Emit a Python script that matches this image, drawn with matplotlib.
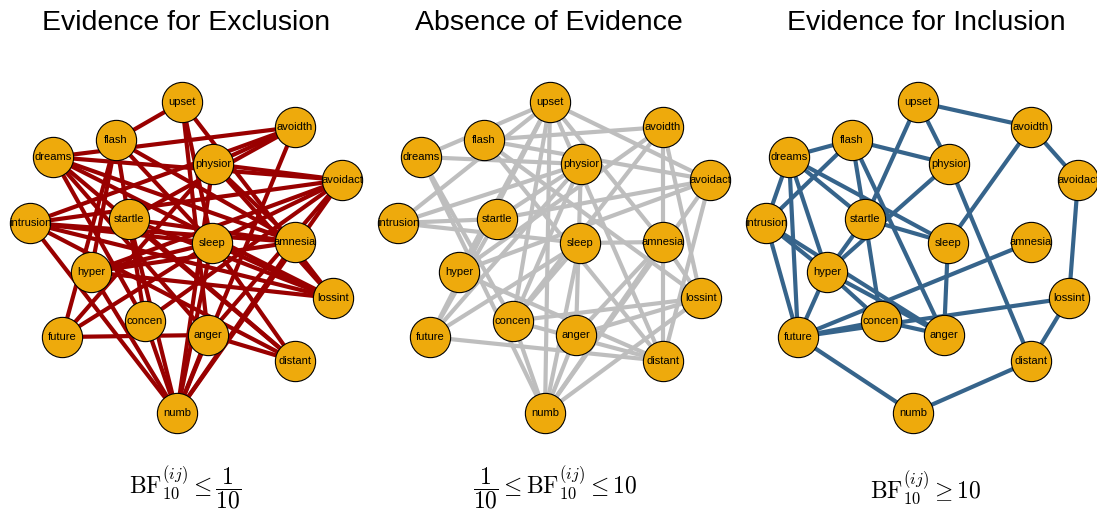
import matplotlib.pyplot as plt

plt.rcParams['mathtext.fontset'] = 'cm'

# node layout (same in all three panels), pixel coords inside a panel
nodes = ["upset", "flash", "dreams", "physior", "avoidth", "avoidact", "intrusion",
         "startle", "sleep", "amnesia", "hyper", "lossint", "concen", "anger",
         "future", "distant", "numb"]
node_x = [182, 116, 53, 213, 295, 342, 30, 129, 212, 295, 91, 333, 145, 208, 62, 295, 177]
node_y = [102, 140, 157, 164, 127, 180, 223, 219, 243, 242, 272, 298, 321, 335, 337, 361, 413]

# edges with BF10 <= 1/10
excl_edges = [
    ("upset", "flash"), ("upset", "sleep"), ("upset", "anger"), ("upset", "lossint"),
    ("dreams", "avoidth"), ("flash", "hyper"), ("flash", "future"), ("flash", "concen"),
    ("flash", "sleep"), ("flash", "amnesia"),
    ("dreams", "avoidact"), ("dreams", "amnesia"), ("dreams", "concen"), ("dreams", "anger"),
    ("dreams", "lossint"), ("dreams", "distant"),
    ("intrusion", "avoidth"), ("intrusion", "avoidact"), ("intrusion", "sleep"),
    ("intrusion", "amnesia"), ("intrusion", "lossint"), ("intrusion", "numb"),
    ("intrusion", "distant"),
    ("physior", "avoidth"), ("physior", "avoidact"), ("physior", "lossint"),
    ("physior", "amnesia"), ("physior", "future"), ("physior", "numb"),
    ("avoidth", "startle"), ("avoidth", "numb"),
    ("avoidact", "sleep"), ("avoidact", "hyper"), ("avoidact", "concen"),
    ("avoidact", "anger"), ("avoidact", "numb"),
    ("sleep", "lossint"), ("sleep", "distant"), ("sleep", "numb"), ("sleep", "future"),
    ("sleep", "hyper"),
    ("startle", "lossint"), ("startle", "distant"), ("startle", "numb"), ("startle", "amnesia"),
    ("amnesia", "hyper"), ("amnesia", "numb"),
    ("hyper", "lossint"), ("hyper", "numb"),
    ("future", "anger"), ("concen", "numb"), ("anger", "numb"), ("anger", "distant"),
]

# edges with 1/10 < BF10 < 10
absence_edges = [
    ("upset", "dreams"), ("upset", "intrusion"), ("upset", "avoidact"), ("upset", "amnesia"),
    ("upset", "hyper"), ("upset", "future"), ("upset", "concen"), ("upset", "distant"),
    ("upset", "numb"),
    ("flash", "avoidth"), ("flash", "avoidact"), ("flash", "lossint"), ("flash", "distant"),
    ("dreams", "physior"), ("dreams", "concen"), ("dreams", "numb"),
    ("intrusion", "physior"), ("intrusion", "startle"), ("intrusion", "sleep"),
    ("physior", "concen"), ("physior", "anger"), ("physior", "future"), ("physior", "startle"),
    ("avoidth", "amnesia"), ("avoidth", "lossint"), ("avoidth", "concen"), ("avoidth", "hyper"),
    ("avoidact", "startle"), ("avoidact", "hyper"), ("avoidact", "distant"), ("avoidact", "numb"),
    ("sleep", "amnesia"), ("sleep", "concen"), ("sleep", "numb"), ("sleep", "future"),
    ("amnesia", "distant"), ("amnesia", "lossint"), ("amnesia", "anger"), ("amnesia", "numb"),
    ("lossint", "numb"), ("lossint", "anger"), ("concen", "lossint"),
    ("future", "distant"), ("future", "startle"), ("hyper", "distant"),
    ("concen", "distant"), ("anger", "numb"), ("concen", "numb"),
]

# edges with BF10 >= 10
incl_edges = [
    ("upset", "avoidth"), ("upset", "physior"), ("upset", "startle"),
    ("avoidth", "avoidact"), ("avoidth", "sleep"), ("avoidact", "lossint"),
    ("lossint", "distant"), ("future", "lossint"), ("future", "amnesia"),
    ("flash", "dreams"), ("flash", "physior"), ("flash", "startle"), ("flash", "anger"),
    ("flash", "intrusion"),
    ("dreams", "intrusion"), ("dreams", "future"), ("dreams", "hyper"), ("dreams", "startle"),
    ("dreams", "sleep"),
    ("intrusion", "future"), ("intrusion", "hyper"), ("intrusion", "anger"),
    ("startle", "sleep"), ("startle", "hyper"), ("startle", "concen"),
    ("physior", "hyper"), ("physior", "distant"),
    ("sleep", "anger"),
    ("hyper", "future"), ("hyper", "concen"), ("hyper", "anger"),
    ("concen", "anger"), ("future", "numb"), ("numb", "distant"), ("future", "concen"),
]

titles = ["Evidence for Exclusion", "Absence of Evidence", "Evidence for Inclusion"]
captions = [r"$\mathrm{BF}_{10}^{(ij)} \leq \dfrac{1}{10}$",
            r"$\dfrac{1}{10} \leq \mathrm{BF}_{10}^{(ij)} \leq 10$",
            r"$\mathrm{BF}_{10}^{(ij)} \geq 10$"]
edge_sets = [excl_edges, absence_edges, incl_edges]
edge_colors = ["#990000", "#BEBEBE", "#36648B"]
offsets = [0, 368, 736]
title_x = [186, 549, 926]
caption_x = [185, 555, 926]

pos = {n: (x, y) for n, x, y in zip(nodes, node_x, node_y)}

fig = plt.figure(figsize=(10.97, 5.14), dpi=100)
ax = fig.add_axes([0, 0, 1, 1])
ax.set_xlim(0, 1097)
ax.set_ylim(514, 0)
ax.axis('off')

for k in range(3):
    off = offsets[k]
    for a, b in edge_sets[k]:
        ax.plot([pos[a][0] + off, pos[b][0] + off], [pos[a][1], pos[b][1]],
                color=edge_colors[k], lw=3, solid_capstyle='butt', zorder=1)
    ax.scatter([x + off for x in node_x], node_y, s=840, color="#EEAA0C",
               edgecolors="black", linewidths=0.8, zorder=2)
    for n, x, y in zip(nodes, node_x, node_y):
        ax.text(x + off, y, n, ha='center', va='center', fontsize=8,
                family='Liberation Sans', zorder=3)
    ax.text(title_x[k], 23, titles[k], ha='center', va='center', fontsize=20.5,
            family='Liberation Sans')
    ax.text(caption_x[k], 488, captions[k], ha='center', va='center', fontsize=17)

fig.savefig("out.png", dpi=100)
